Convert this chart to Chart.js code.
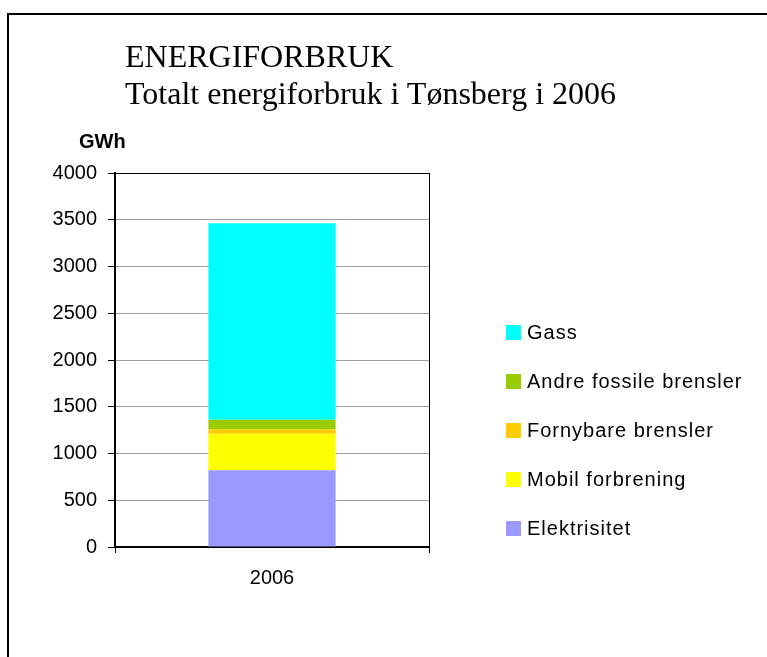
<!DOCTYPE html>
<html>
<head>
<meta charset="utf-8">
<script src="https://cdn.jsdelivr.net/npm/chart.js@4"></script>
<style>
  html, body { margin: 0; padding: 0; background: #fff; overflow: hidden; }
  #wrap { position: relative; width: 767px; height: 657px; }
  #frame { position: absolute; left: 7px; top: 13px; width: 800px; height: 700px; border: 2px solid #000; }
  #myChart { position: absolute; left: 0; top: 0; }
  .title { position: absolute; left: 125px; font-family: "Liberation Serif", "Times New Roman", serif; font-size: 32px; line-height: 32px; color: #000; white-space: nowrap; }
  #unit { position: absolute; left: 79px; top: 131px; font-family: "Liberation Sans", Arial, sans-serif; font-weight: bold; font-size: 20px; line-height: 20px; white-space: nowrap; }
</style>
</head>
<body>
<div id="wrap">
  <div id="frame"></div>
  <canvas id="myChart" width="767" height="657"></canvas>
  <div class="title" style="top:40px">ENERGIFORBRUK</div>
  <div class="title" style="top:77px">Totalt energiforbruk i Tønsberg i 2006</div>
  <div id="unit">GWh</div>
</div>
<script>
var years = ['2006'];
var labels = ['Elektrisitet', 'Mobil forbrening', 'Fornybare brensler', 'Andre fossile brensler', 'Gass'];
var elektrisitet = [820];
var mobil = [390];
var fornybare = [47];
var andre = [105];
var gass = [2100];
var colors = ['#9999FF', '#FFFF00', '#FFCC00', '#99CC00', '#00FFFF'];
var yTicks = [0, 500, 1000, 1500, 2000, 2500, 3000, 3500, 4000];

var series = [elektrisitet, mobil, fornybare, andre, gass];
var datasets = [];
for (var i = 0; i < labels.length; i++) {
	datasets.push({
		label: labels[i],
		data: series[i],
		backgroundColor: colors[i],
		borderWidth: 0,
		barPercentage: 0.405,
		categoryPercentage: 1
	});
}

// legend drawn by hand, top item = last dataset
var sideLegend = {
	id: 'sideLegend',
	afterDraw: function(chart) {
		var ctx = chart.ctx;
		var ds = chart.data.datasets;
		ctx.save();
		ctx.font = '20px "Liberation Sans", Arial, sans-serif';
		ctx.letterSpacing = '1px';
		ctx.textBaseline = 'alphabetic';
		var y = 332;
		for (var i = ds.length - 1; i >= 0; i--) {
			ctx.fillStyle = ds[i].backgroundColor;
			ctx.fillRect(506, y - 7, 15, 15);
			ctx.fillStyle = '#000';
			ctx.fillText(ds[i].label, 527, y + 7);
			y += 49;
		}
		ctx.restore();
	}
};

var myChart = document.getElementById('myChart').getContext('2d');

var chart = new Chart(myChart, {
	type: 'bar',
	data: {
		labels: years,
		datasets: datasets
	},
	options: {
		responsive: false,
		animation: false,
		layout: {
			padding: { left: 0, right: 338, top: 173, bottom: 0 }
		},
		plugins: {
			legend: { display: false },
			tooltip: { enabled: false },
			title: { display: false }
		},
		scales: {
			x: {
				stacked: true,
				afterFit: function(scale) { scale.height = 110; },
				grid: {
					display: true,
					drawOnChartArea: true,
					color: '#000',
					lineWidth: 1,
					tickLength: 6
				},
				border: { color: '#000', width: 2 },
				ticks: {
					color: '#000',
					padding: 13,
					font: { family: '"Liberation Sans", Arial, sans-serif', size: 20 }
				}
			},
			y: {
				stacked: true,
				min: 0,
				max: 4000,
				afterFit: function(scale) { scale.width = 115; },
				afterBuildTicks: function(scale) {
					scale.ticks = yTicks.map(function(v) { return { value: v }; });
				},
				grid: {
					color: function(c) { return c.tick && c.tick.value === 4000 ? '#000' : '#a0a0a0'; },
					tickColor: '#000',
					lineWidth: 1,
					tickLength: 7
				},
				border: { color: '#000', width: 2 },
				ticks: {
					color: '#000',
					padding: 11,
					font: { family: '"Liberation Sans", Arial, sans-serif', size: 20 },
					callback: function(v) { return String(v); }
				}
			}
		}
	},
	plugins: [sideLegend]
});
</script>
</body>
</html>
